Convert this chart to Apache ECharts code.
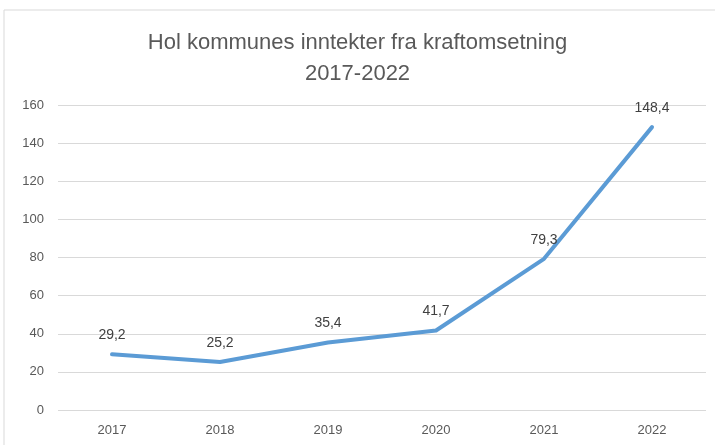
<!DOCTYPE html>
<html>
<head>
<meta charset="utf-8">
<script src="https://cdn.jsdelivr.net/npm/echarts@6/dist/echarts.min.js"></script>
<style>
  html, body { margin: 0; padding: 0; background: #fff; }
  #chart { width: 715px; height: 445px; }
</style>
</head>
<body>
<div id="chart"></div>
<script>
const years = ['2017', '2018', '2019', '2020', '2021', '2022'];
const income = [29.2, 25.2, 35.4, 41.7, 79.3, 148.4];
const yTicks = [0, 20, 40, 60, 80, 100, 120, 140, 160];

const chart = echarts.init(document.getElementById('chart'));

const option = {
  backgroundColor: '#fff',
  textStyle: { fontFamily: 'Liberation Sans, Arial, sans-serif' },
  graphic: [
    {
      type: 'rect',
      shape: { x: 4, y: 10, width: 720, height: 450 },
      style: { fill: 'none', stroke: '#d9d9d9', lineWidth: 1 },
      silent: true
    }
  ],
  title: {
    text: 'Hol kommunes inntekter fra kraftomsetning\n2017-2022',
    left: 'center',
    top: 22,
    textStyle: {
      color: '#595959',
      fontSize: 22,
      fontWeight: 'normal',
      lineHeight: 31
    }
  },
  grid: {
    left: 58,
    right: 9,
    top: 105,
    bottom: 35
  },
  xAxis: {
    type: 'category',
    data: years,
    boundaryGap: true,
    axisLine: { show: false },
    axisTick: { show: false },
    axisLabel: { color: '#595959', fontSize: 13, margin: 14 }
  },
  yAxis: {
    type: 'value',
    min: yTicks[0],
    max: yTicks[yTicks.length - 1],
    interval: 20,
    axisLine: { show: false },
    axisTick: { show: false },
    splitLine: { lineStyle: { color: '#d9d9d9', width: 1 } },
    axisLabel: { color: '#595959', fontSize: 13, margin: 14 }
  },
  series: [
    {
      type: 'line',
      data: income,
      showSymbol: true,
      symbol: 'circle',
      symbolSize: 0,
      lineStyle: { color: '#5b9bd5', width: 4, cap: 'round', join: 'round' },
      itemStyle: { color: '#5b9bd5' },
      label: {
        show: true,
        position: 'top',
        distance: 12,
        color: '#404040',
        fontSize: 14,
        formatter: p => String(p.value).replace('.', ',')
      }
    }
  ]
};

chart.setOption(option);
</script>
</body>
</html>
